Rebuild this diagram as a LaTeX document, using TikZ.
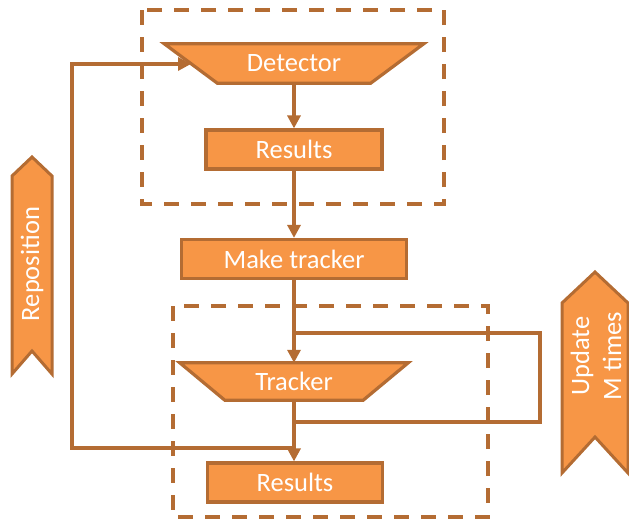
\documentclass[tikz,border=0pt]{standalone}
\usepackage{fontspec}
\setmainfont{Carlito}
\usetikzlibrary{arrows.meta,backgrounds}
\definecolor{boxfill}{HTML}{F79646}
\definecolor{boxline}{HTML}{B46C33}
\tikzset{
  label text/.style={text=white, font=\fontsize{26.5}{32}\selectfont, inner sep=0pt},
  procbox/.style={label text, draw=boxline, fill=boxfill, line width=3.2pt, minimum height=39pt},
  trapbox/.style={label text, minimum height=39pt},
  trapdraw/.style={draw=boxline, fill=boxfill, line width=3.2pt, line join=miter},
  group/.style={draw=boxline, line width=3.2pt, dash pattern=on 15pt off 12pt},
  flow/.style={draw=boxline, line width=3.2pt, -{Triangle[length=13pt,width=13pt]}},
  link/.style={draw=boxline, line width=3.2pt},
  banner/.style={draw=boxline, fill=boxfill, line width=3pt, line join=miter}
}
\begin{document}
\begin{tikzpicture}[x=1pt,y=-1pt]
\useasboundingbox (0,0) rectangle (629,523);

% dashed grouping frames
\draw[group] (142,10) rectangle (444,204);
\draw[group] (173,306) rectangle (488,517);

% process steps
\node[trapbox, minimum width=259pt] (det) at (294,63.5) {Detector};
\node[procbox, minimum width=176pt] (res1) at (294,149.5) {Results};
\node[procbox, minimum width=225pt] (mk) at (294,259) {Make tracker};
\node[trapbox, minimum width=228pt, minimum height=37pt] (trk) at (294,381.5) {Tracker};
\node[procbox, minimum width=175pt] (res2) at (295,482.5) {Results};

\begin{pgfonlayer}{background}
  \draw[trapdraw] (det.north west) -- (det.north east)
    -- ([xshift=-53pt]det.south east) -- ([xshift=53pt]det.south west) -- cycle;
  \draw[trapdraw] (trk.north west) -- (trk.north east)
    -- ([xshift=-45pt]trk.south east) -- ([xshift=45pt]trk.south west) -- cycle;
\end{pgfonlayer}

% main flow
\draw[flow] (det.south) -- (res1.north);
\draw[flow] (res1.south) -- (mk.north);
\draw[flow] (mk.south) -- (trk.north);
\draw[flow] (trk.south) -- ([xshift=-1pt]res2.north);

% update loop around the tracker
\coordinate (lt) at (294,333);
\coordinate (lb) at (294,422);
\coordinate (lr1) at (540,333);
\coordinate (lr2) at (540,422);
\draw[link] (lb) -- (lr2) -- (lr1) -- (lt);

% reposition loop back to the detector
\coordinate (rp) at (295,448);
\coordinate (rl1) at (72,448);
\coordinate (rl2) at (72,64);
\coordinate (detin) at (191,64);
\draw[flow] (rp) -- (rl1) -- (rl2) -- (detin);

% side banners
\draw[banner] (12,176) -- (32,157) -- (52,176) -- (52,374) -- (32,351) -- (12,374) -- cycle;
\node[label text, rotate=90] (repo) at (32,264) {Reposition};
\draw[banner] (562,303) -- (595,272) -- (628,303) -- (628,473) -- (595,437) -- (562,473) -- cycle;
\node[label text, rotate=90, align=center] (upd) at (596,356) {Update\\M times};
\end{tikzpicture}
\end{document}
